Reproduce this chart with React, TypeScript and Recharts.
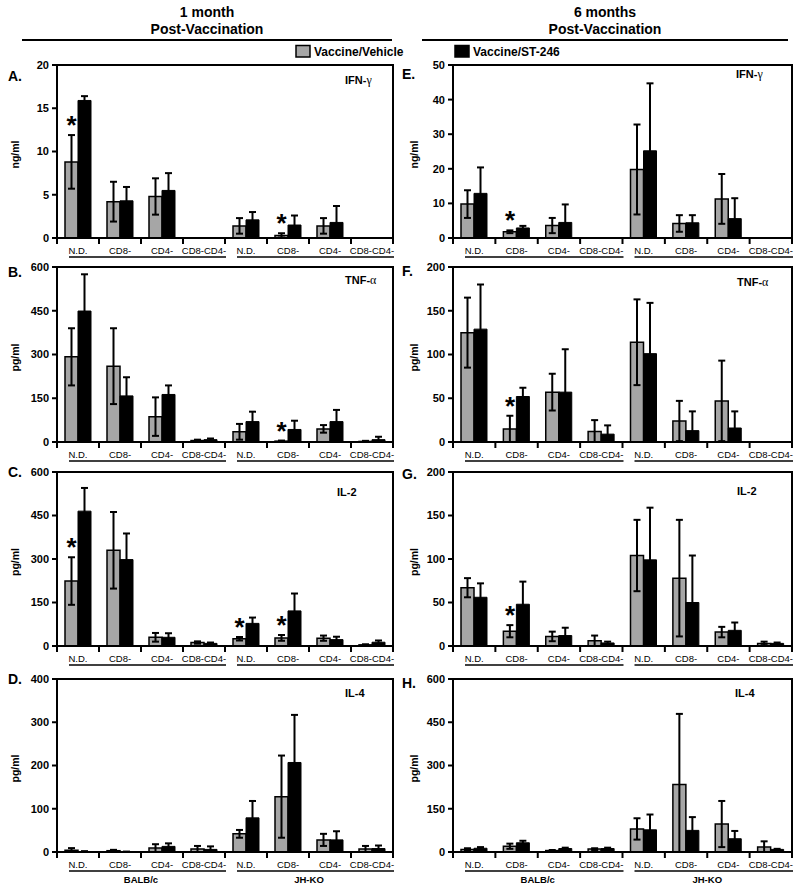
import React from 'react';
import { BarChart, Bar, XAxis, YAxis, ErrorBar, ReferenceDot } from 'recharts';

const categories = ['N.D.', 'CD8-', 'CD4-', 'CD8-CD4-', 'N.D.', 'CD8-', 'CD4-', 'CD8-CD4-'];
const groups = ['BALB/c', 'JH-KO'];

// 1 month post-vaccination
const ifn1Vehicle = [8.8, 4.2, 4.8, 0, 1.4, 0.3, 1.4, 0];
const ifn1VehicleErr = [3.1, 2.3, 2.1, 0, 0.9, 0.25, 0.9, 0];
const ifn1St246 = [15.9, 4.3, 5.5, 0, 2.1, 1.5, 1.8, 0];
const ifn1St246Err = [0.5, 1.6, 2.0, 0, 0.9, 1.1, 1.9, 0];

const tnf1Vehicle = [292, 260, 87, 5, 35, 3, 45, 2];
const tnf1VehicleErr = [98, 130, 66, 3, 27, 2, 13, 2];
const tnf1St246 = [449, 158, 163, 8, 70, 43, 70, 8];
const tnf1St246Err = [126, 64, 31, 4, 34, 30, 40, 10];

const il21Vehicle = [224, 330, 30, 12, 25, 28, 27, 4];
const il21VehicleErr = [82, 132, 15, 4, 6, 10, 9, 2];
const il21St246 = [465, 298, 30, 9, 78, 121, 22, 13];
const il21St246Err = [80, 90, 14, 3, 20, 60, 10, 6];

const il41Vehicle = [4, 3, 9, 7, 42, 128, 28, 7];
const il41VehicleErr = [5, 2, 9, 7, 9, 95, 14, 7];
const il41St246 = [1, 0.5, 13, 6, 79, 207, 28, 8];
const il41St246Err = [1, 0.5, 7, 7, 39, 110, 20, 7];

// 6 months post-vaccination
const ifn6Vehicle = [9.8, 1.8, 3.6, 0, 19.8, 4.2, 11.3, 0];
const ifn6VehicleErr = [4.0, 0.4, 2.2, 0, 13, 2.4, 7.2, 0];
const ifn6St246 = [12.9, 2.9, 4.5, 0, 25.2, 4.4, 5.6, 0];
const ifn6St246Err = [7.5, 0.6, 5.2, 0, 19.5, 2.2, 5.9, 0];

const tnf6Vehicle = [125, 15, 57, 12, 114, 24, 47, 0];
const tnf6VehicleErr = [40, 15, 21, 13, 49, 23, 46, 0];
const tnf6St246 = [129, 52, 57, 9, 101, 13, 16, 0];
const tnf6St246Err = [51, 10, 49, 10, 58, 22, 19, 0];

const il26Vehicle = [67, 17, 11, 6, 104, 78, 16, 3];
const il26VehicleErr = [11, 7, 5.5, 6, 41, 67, 6, 2];
const il26St246 = [56, 48, 12, 3.5, 99, 50, 18, 3];
const il26St246Err = [16, 26, 9, 1.5, 60, 54, 9, 1];

const il46Vehicle = [9, 20, 5, 10, 80, 234, 97, 17];
const il46VehicleErr = [4, 9, 2, 3, 37, 245, 80, 20];
const il46St246 = [13, 32, 12, 12, 77, 75, 46, 9];
const il46St246Err = [4, 7, 3, 3, 53, 46, 27, 2];

const ticksIfn1 = [0, 5, 10, 15, 20];
const ticks600 = [0, 150, 300, 450, 600];
const ticks400 = [0, 100, 200, 300, 400];
const ticksIfn6 = [0, 10, 20, 30, 40, 50];
const ticks200 = [0, 50, 100, 150, 200];

const FONT = "'Liberation Sans', Arial, sans-serif";
const GRAY = '#a6a6a6';

const cols = [
  { x: 57, w: 336 },
  { x: 453, w: 339 },
];
const rowsY = [
  { y: 65, h: 173 },
  { y: 267, h: 175 },
  { y: 472, h: 174 },
  { y: 679, h: 173 },
];

type Panel = {
  letter: string;
  name: string;
  greek?: string;
  unit: string;
  ticks: number[];
  vehicle: number[];
  vehicleErr: number[];
  st246: number[];
  st246Err: number[];
  stars: number[];
  col: number;
  row: number;
  nameX: number;
  nameY: number;
  letterY: number;
};

const panels: Panel[] = [
  { letter: 'A.', name: 'IFN-', greek: 'γ', unit: 'ng/ml', ticks: ticksIfn1, vehicle: ifn1Vehicle, vehicleErr: ifn1VehicleErr, st246: ifn1St246, st246Err: ifn1St246Err, stars: [0, 5], col: 0, row: 0, nameX: 345, nameY: 80, letterY: 76 },
  { letter: 'B.', name: 'TNF-', greek: 'α', unit: 'pg/ml', ticks: ticks600, vehicle: tnf1Vehicle, vehicleErr: tnf1VehicleErr, st246: tnf1St246, st246Err: tnf1St246Err, stars: [5], col: 0, row: 1, nameX: 345, nameY: 280, letterY: 272 },
  { letter: 'C.', name: 'IL-2', unit: 'pg/ml', ticks: ticks600, vehicle: il21Vehicle, vehicleErr: il21VehicleErr, st246: il21St246, st246Err: il21St246Err, stars: [0, 4, 5], col: 0, row: 2, nameX: 337, nameY: 492, letterY: 472 },
  { letter: 'D.', name: 'IL-4', unit: 'pg/ml', ticks: ticks400, vehicle: il41Vehicle, vehicleErr: il41VehicleErr, st246: il41St246, st246Err: il41St246Err, stars: [], col: 0, row: 3, nameX: 345, nameY: 693, letterY: 679 },
  { letter: 'E.', name: 'IFN-', greek: 'γ', unit: 'ng/ml', ticks: ticksIfn6, vehicle: ifn6Vehicle, vehicleErr: ifn6VehicleErr, st246: ifn6St246, st246Err: ifn6St246Err, stars: [1], col: 1, row: 0, nameX: 736, nameY: 74, letterY: 74 },
  { letter: 'F.', name: 'TNF-', greek: 'α', unit: 'pg/ml', ticks: ticks200, vehicle: tnf6Vehicle, vehicleErr: tnf6VehicleErr, st246: tnf6St246, st246Err: tnf6St246Err, stars: [1], col: 1, row: 1, nameX: 737, nameY: 282, letterY: 271 },
  { letter: 'G.', name: 'IL-2', unit: 'pg/ml', ticks: ticks200, vehicle: il26Vehicle, vehicleErr: il26VehicleErr, st246: il26St246, st246Err: il26St246Err, stars: [1], col: 1, row: 2, nameX: 737, nameY: 491, letterY: 474 },
  { letter: 'H.', name: 'IL-4', unit: 'pg/ml', ticks: ticks600, vehicle: il46Vehicle, vehicleErr: il46VehicleErr, st246: il46St246, st246Err: il46St246Err, stars: [], col: 1, row: 3, nameX: 735, nameY: 693, letterY: 683 },
];

const BAR = 13;

const makeTick = (bw: number, showGroups: boolean) => (props: any) => {
  const { x, y, payload } = props;
  const i = Number(payload.value);
  const left = x - bw / 2;
  return (
    <g>
      <line x1={left} y1={y} x2={left} y2={y + 6} stroke="#000" strokeWidth={2} />
      {i === categories.length - 1 && (
        <line x1={x + bw / 2} y1={y} x2={x + bw / 2} y2={y + 6} stroke="#000" strokeWidth={2} />
      )}
      <text x={x} y={y + 15.5} textAnchor="middle" fontSize={9.5} fontFamily={FONT} fill="#000">
        {categories[i]}
      </text>
      {i % 4 === 0 && (
        <line x1={left + 12} y1={y + 19} x2={x + 3.5 * bw + 1} y2={y + 19} stroke="#000" strokeWidth={1.3} />
      )}
      {showGroups && i % 4 === 0 && (
        <text x={x + 1.5 * bw} y={y + 31} textAnchor="middle" fontSize={9.5} fontWeight="bold" fontFamily={FONT} fill="#000">
          {groups[i / 4]}
        </text>
      )}
    </g>
  );
};

const starShape = (props: any) => (
  <text x={props.cx - BAR / 2} y={props.cy - 1} textAnchor="middle" fontSize={26} fontWeight="bold" fontFamily={FONT} fill="#000">
    *
  </text>
);

const PanelChart = ({ p }: { p: Panel }) => {
  const c = cols[p.col];
  const r = rowsY[p.row];
  const max = p.ticks[p.ticks.length - 1];
  const bw = c.w / categories.length;
  const data = categories.map((name, i) => ({
    idx: i,
    name,
    vehicle: p.vehicle[i],
    vehicleErr: [Math.min(p.vehicleErr[i], p.vehicle[i]), p.vehicleErr[i]],
    st246: p.st246[i],
    st246Err: [Math.min(p.st246Err[i], p.st246[i]), p.st246Err[i]],
  }));
  return (
    <div style={{ position: 'absolute', left: c.x - 50, top: r.y - 10 }}>
      <BarChart
        width={50 + c.w + 10}
        height={10 + r.h + 40}
        data={data}
        margin={{ top: 10, right: 10, bottom: 0, left: 0 }}
        barGap={0}
        barSize={BAR}
      >
        <XAxis
          dataKey="idx"
          type="category"
          interval={0}
          height={40}
          tickLine={false}
          tickSize={0}
          tickMargin={0}
          axisLine={{ stroke: '#000', strokeWidth: 2 }}
          tick={makeTick(bw, p.row === 3)}
        />
        <YAxis
          width={50}
          domain={[0, max]}
          ticks={p.ticks}
          allowDataOverflow
          tickSize={5}
          tickMargin={3}
          tickLine={{ stroke: '#000', strokeWidth: 2 }}
          axisLine={{ stroke: '#000', strokeWidth: 2 }}
          tick={{ fill: '#000', fontSize: 11, fontWeight: 'bold', fontFamily: FONT }}
        />
        <Bar dataKey="vehicle" fill={GRAY} stroke="#000" strokeWidth={1.5} isAnimationActive={false}>
          <ErrorBar dataKey="vehicleErr" direction="y" width={3.5} stroke="#000" strokeWidth={2} />
        </Bar>
        <Bar dataKey="st246" fill="#000" stroke="#000" strokeWidth={1} isAnimationActive={false}>
          <ErrorBar dataKey="st246Err" direction="y" width={3.5} stroke="#000" strokeWidth={2} />
        </Bar>
        {p.stars.map((i) => (
          <ReferenceDot
            key={i}
            x={i}
            y={p.vehicle[i] + p.vehicleErr[i]}
            r={0}
            ifOverflow="visible"
            shape={starShape}
          />
        ))}
      </BarChart>
    </div>
  );
};

export default function App() {
  return (
    <div style={{ position: 'absolute', left: 0, top: 0, width: 800, height: 892, background: '#fff', fontFamily: FONT }}>
      {panels.map((p) => (
        <PanelChart key={p.letter} p={p} />
      ))}
      <svg width={800} height={892} style={{ position: 'absolute', left: 0, top: 0, pointerEvents: 'none' }}>
        <g fontFamily={FONT} fontWeight="bold" fill="#000">
          <text x={207} y={17} fontSize={14} textAnchor="middle">1 month</text>
          <text x={207} y={34} fontSize={14} textAnchor="middle">Post-Vaccination</text>
          <line x1={22} x2={392} y1={40} y2={40} stroke="#000" strokeWidth={2} />
          <text x={605} y={17} fontSize={14} textAnchor="middle">6 months</text>
          <text x={605} y={34} fontSize={14} textAnchor="middle">Post-Vaccination</text>
          <line x1={422} x2={788} y1={40} y2={40} stroke="#000" strokeWidth={2} />

          <rect x={296} y={45.5} width={14} height={11.5} fill={GRAY} stroke="#000" strokeWidth={1.5} />
          <text x={314} y={56} fontSize={12}>Vaccine/Vehicle</text>
          <rect x={455} y={45.5} width={14} height={11.5} fill="#000" stroke="#000" strokeWidth={1.5} />
          <text x={473} y={56} fontSize={12}>Vaccine/ST-246</text>

          {panels.map((p) => {
            const c = cols[p.col];
            const r = rowsY[p.row];
            const lx = p.col === 0 ? 8 : 402;
            const ux = p.col === 0 ? 15 : 414;
            const cy = r.y + r.h / 2 + 3;
            return (
              <g key={p.letter}>
                <rect x={c.x} y={r.y} width={c.w} height={r.h} fill="none" stroke="#000" strokeWidth={2} />
                <text x={lx} y={p.letterY + 5} fontSize={14}>{p.letter}</text>
                <text transform={`translate(${ux}, ${cy}) rotate(-90)`} textAnchor="middle" dominantBaseline="central" fontSize={10.5}>
                  {p.unit}
                </text>
                <text x={p.nameX} y={p.nameY + 4} fontSize={11}>
                  {p.name}
                  {p.greek && (
                    <tspan fontFamily="'Liberation Serif', serif" fontWeight="normal" fontSize={12}>
                      {p.greek}
                    </tspan>
                  )}
                </text>
              </g>
            );
          })}
        </g>
      </svg>
    </div>
  );
}
